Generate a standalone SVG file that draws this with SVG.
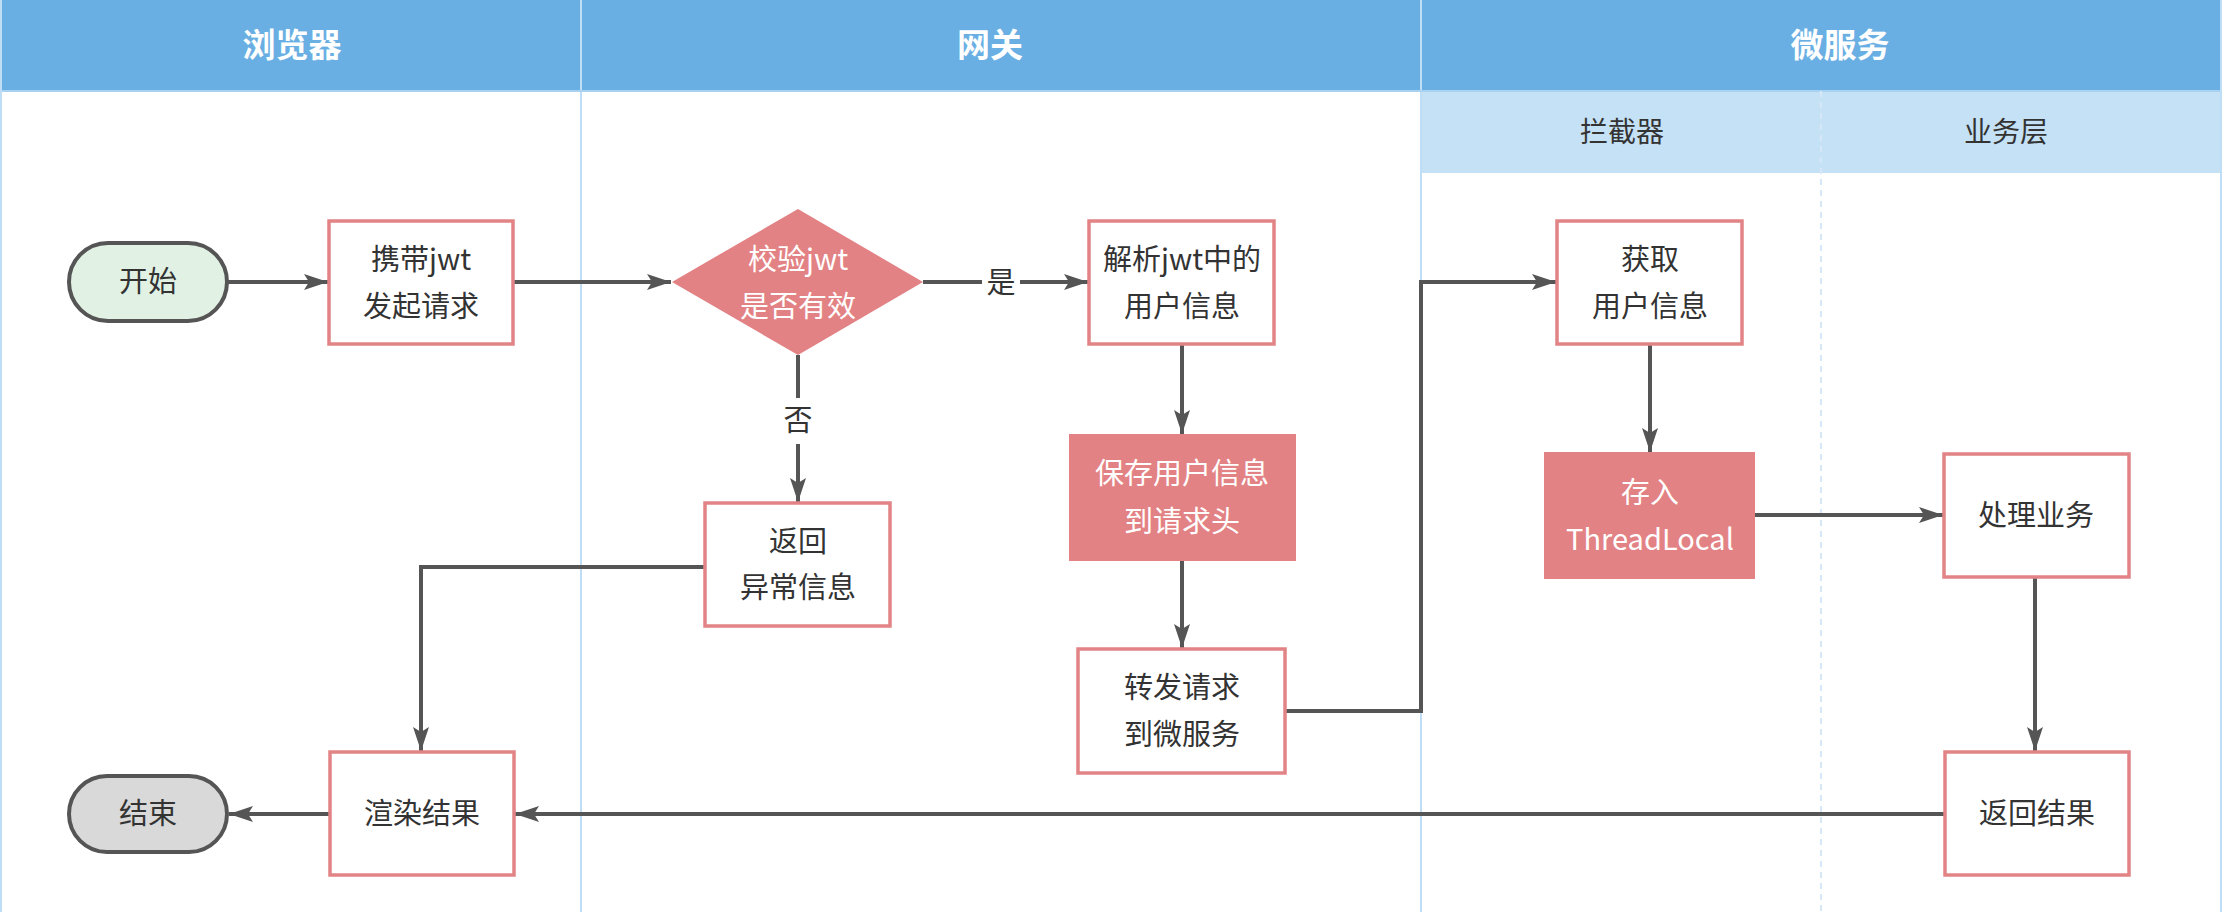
<svg xmlns="http://www.w3.org/2000/svg" width="2222" height="912" viewBox="0 0 2222 912">
<style>
.hdr{fill:#6AAFE3}
.sub{fill:#C5E1F5}
.lane{stroke:#BFDDF5;stroke-width:2;fill:none}
.dash{stroke:#D6E8F7;stroke-width:2;stroke-dasharray:6 5;fill:none}
.ht{font-family:"Noto Sans CJK SC","Noto Sans",sans-serif;font-size:33px;font-weight:bold;fill:#fff;text-anchor:middle}
.st{font-family:"Noto Sans CJK SC","Noto Sans",sans-serif;font-size:28px;fill:#333;text-anchor:middle}
.box{fill:#fff;stroke:#E28486;stroke-width:3.5}
.fbox{fill:#E38284;stroke:#E38284;stroke-width:2}
.t{font-family:"Noto Sans CJK SC","Noto Sans",sans-serif;font-size:29px;fill:#333;text-anchor:middle}
.w{fill:#fff}
.start{fill:#E1F2E5;stroke:#555;stroke-width:4}
.end{fill:#D9D9D9;stroke:#555;stroke-width:4}
.c{fill:none;stroke:#555;stroke-width:4}
</style>
<defs>
<marker id="ah" markerUnits="userSpaceOnUse" markerWidth="26" markerHeight="18" refX="24" refY="8" orient="auto">
<path d="M0,0 L24,8 L0,16 L5,8 z" fill="#555"/>
</marker>
</defs>
<rect x="0" y="0" width="2222" height="912" fill="#fff"/>
<g id="lanes">
<rect class="hdr" x="0" y="0" width="2222" height="91"/>
<rect class="sub" x="1421" y="91" width="801" height="82"/>
<line class="lane" x1="581" y1="0" x2="581" y2="912"/>
<line class="lane" x1="1421" y1="0" x2="1421" y2="912"/>
<line x1="0" y1="91" x2="2222" y2="91" stroke="#A9D1F0" stroke-width="2"/>
<line class="dash" x1="1821" y1="91" x2="1821" y2="912"/>
<line x1="1" y1="0" x2="1" y2="912" stroke="#BFDDF5" stroke-width="2"/>
<line x1="2221" y1="0" x2="2221" y2="912" stroke="#BFDDF5" stroke-width="2"/>
<text class="ht" x="292" y="57">浏览器</text>
<text class="ht" x="990" y="57">网关</text>
<text class="ht" x="1840" y="57">微服务</text>
<text class="st" x="1622" y="142">拦截器</text>
<text class="st" x="2006" y="142">业务层</text>
</g>
<g id="connectors">
<path class="c" d="M227,282 H328" marker-end="url(#ah)"/>
<path class="c" d="M513,282 H671" marker-end="url(#ah)"/>
<path class="c" d="M923,282 H1088" marker-end="url(#ah)"/>
<path class="c" d="M798,355 V502" marker-end="url(#ah)"/>
<path class="c" d="M1182,344 V434" marker-end="url(#ah)"/>
<path class="c" d="M1182,560 V648" marker-end="url(#ah)"/>
<path class="c" d="M1285,711 H1421 V282 H1556" marker-end="url(#ah)"/>
<path class="c" d="M1650,344 V452" marker-end="url(#ah)"/>
<path class="c" d="M1754,515 H1943" marker-end="url(#ah)"/>
<path class="c" d="M2035,577 V751" marker-end="url(#ah)"/>
<path class="c" d="M1945,814 H515" marker-end="url(#ah)"/>
<path class="c" d="M330,814 H229" marker-end="url(#ah)"/>
<path class="c" d="M705,567 H421 V751" marker-end="url(#ah)"/>
<rect x="982" y="263" width="38" height="38" fill="#fff"/>
<text class="t" x="1001" y="293">是</text>
<rect x="779" y="398" width="38" height="46" fill="#fff"/>
<text class="t" x="798" y="431">否</text>
</g>
<g id="n-start">
<rect class="start" x="69" y="243" width="158" height="78" rx="39"/>
<text class="t" x="148" y="292">开始</text>
</g>
<g id="n-carry">
<rect class="box" x="329" y="221" width="184" height="123"/>
<text class="t" x="421" y="270">携带jwt</text>
<text class="t" x="421" y="317">发起请求</text>
</g>
<g id="n-check">
<polygon points="672,282 798,209 923,282 798,355" fill="#E38284"/>
<text class="t w" x="798" y="270">校验jwt</text>
<text class="t w" x="798" y="317">是否有效</text>
</g>
<g id="n-parse">
<rect class="box" x="1089" y="221" width="185" height="123"/>
<text class="t" x="1182" y="270">解析jwt中的</text>
<text class="t" x="1182" y="317">用户信息</text>
</g>
<g id="n-save">
<rect class="fbox" x="1070" y="435" width="225" height="125"/>
<text class="t w" x="1182" y="484">保存用户信息</text>
<text class="t w" x="1182" y="532">到请求头</text>
</g>
<g id="n-error">
<rect class="box" x="705" y="503" width="185" height="123"/>
<text class="t" x="798" y="552">返回</text>
<text class="t" x="798" y="598">异常信息</text>
</g>
<g id="n-forward">
<rect class="box" x="1078" y="649" width="207" height="124"/>
<text class="t" x="1182" y="698">转发请求</text>
<text class="t" x="1182" y="745">到微服务</text>
</g>
<g id="n-get">
<rect class="box" x="1557" y="221" width="185" height="123"/>
<text class="t" x="1650" y="270">获取</text>
<text class="t" x="1650" y="317">用户信息</text>
</g>
<g id="n-store">
<rect class="fbox" x="1545" y="453" width="209" height="125"/>
<text class="t w" x="1650" y="503">存入</text>
<text class="t w" x="1650" y="550">ThreadLocal</text>
</g>
<g id="n-process">
<rect class="box" x="1944" y="454" width="185" height="123"/>
<text class="t" x="2036" y="526">处理业务</text>
</g>
<g id="n-return">
<rect class="box" x="1945" y="752" width="184" height="123"/>
<text class="t" x="2037" y="824">返回结果</text>
</g>
<g id="n-render">
<rect class="box" x="330" y="752" width="184" height="123"/>
<text class="t" x="422" y="824">渲染结果</text>
</g>
<g id="n-end">
<rect class="end" x="69" y="776" width="158" height="76" rx="38"/>
<text class="t" x="148" y="824">结束</text>
</g>
</svg>
